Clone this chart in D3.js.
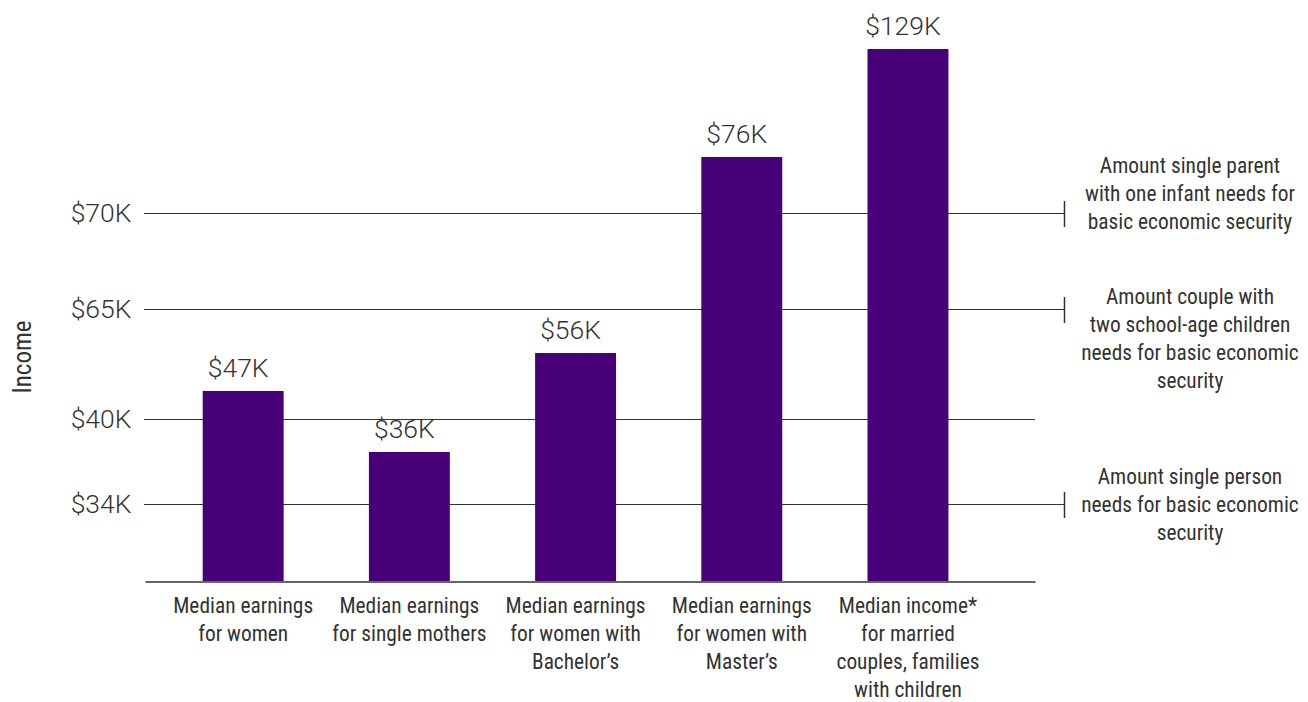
<!DOCTYPE html>
<html>
<head>
<meta charset="utf-8">
<script src="https://cdn.jsdelivr.net/npm/d3@7"></script>
<style>
  html, body { margin: 0; padding: 0; background: #fff; }
  svg { display: block; }
  .num { font-family: Roboto, "Liberation Sans", sans-serif; font-weight: 300; font-size: 26.5px; fill: #333; }
  .cond { font-family: "Liberation Sans Narrow", "Roboto Condensed", "DejaVu Sans Condensed", sans-serif; font-size: 21.4px; fill: #333; }
</style>
</head>
<body>
<svg id="chart" width="1308" height="702"></svg>
<script>
// ---------- data ----------
const categories = [
  "Median earnings for women",
  "Median earnings for single mothers",
  "Median earnings for women with Bachelor's",
  "Median earnings for women with Master's",
  "Median income* for married couples, families with children"
];
const categoryLines = [
  ["Median earnings", "for women"],
  ["Median earnings", "for single mothers"],
  ["Median earnings", "for women with", "Bachelor\u2019s"],
  ["Median earnings", "for women with", "Master\u2019s"],
  ["Median income*", "for married", "couples, families", "with children"]
];
const values = [47, 36, 56, 76, 129];
const valueLabels = ["$47K", "$36K", "$56K", "$76K", "$129K"];

const tickValues = [34, 40, 65, 70];
const tickLabels = ["$34K", "$40K", "$65K", "$70K"];

const thresholdValues = [70, 65, 34];
const thresholdNotes = [
  ["Amount single parent", "with one infant needs for", "basic economic security"],
  ["Amount couple with", "two school-age children", "needs for basic economic", "security"],
  ["Amount single person", "needs for basic economic", "security"]
];
const axisTitle = "Income";

// ---------- layout (not data) ----------
// The original chart is not drawn to a linear scale: a piecewise scale calibrated on it.
const yKnots   = [0,   34,    36,  40,    47,  56,  65,    70,    76,  129];
const yKnotPx  = [581, 504.5, 452, 419.5, 391, 353, 309.5, 213.5, 157, 49];
const noteFirstLineOffset = [-41, -6, -21];
const noteLineHeight = 28.3;
const catLineHeight = 28;

const W = 1308, H = 702;
const xLeft = 145, xRight = 1035, capX = 1064.5, noteX = 1190;
const barColor = "#470077";

const svg = d3.select("#chart");

const x = d3.scaleBand()
  .domain(categories)
  .range([xLeft, xRight])
  .paddingInner(0.513)
  .paddingOuter(0.434)
  .align(0.4);

const y = d3.scaleLinear().domain(yKnots).range(yKnotPx);

// ---------- gridlines / threshold lines ----------
const grid = svg.append("g");
grid.selectAll("line.grid")
  .data(tickValues)
  .join("line")
  .attr("class", "grid")
  .attr("x1", xLeft - 1)
  .attr("x2", d => thresholdValues.includes(d) ? capX : xRight)
  .attr("y1", d => y(d))
  .attr("y2", d => y(d))
  .attr("stroke", "#333")
  .attr("stroke-width", 1);

grid.selectAll("line.cap")
  .data(thresholdValues)
  .join("line")
  .attr("class", "cap")
  .attr("x1", capX).attr("x2", capX)
  .attr("y1", d => Math.round(y(d)) - 13)
  .attr("y2", d => Math.round(y(d)) + 13)
  .attr("stroke", "#333")
  .attr("stroke-width", 1.5);

// ---------- y axis labels ----------
const yAxis = d3.axisLeft(y)
  .tickValues(tickValues)
  .tickFormat(d => tickLabels[tickValues.indexOf(d)])
  .tickSize(0)
  .tickPadding(12);

const gy = svg.append("g")
  .attr("transform", `translate(${xLeft - 1.5},0)`)
  .call(yAxis);
gy.select(".domain").remove();
gy.selectAll("text")
  .attr("class", "num")
  .attr("font-family", null)
  .attr("font-size", null)
  .attr("fill", null);

// ---------- bars ----------
svg.append("g").selectAll("rect")
  .data(values)
  .join("rect")
  .attr("x", (d, i) => x(categories[i]))
  .attr("width", x.bandwidth())
  .attr("y", d => y(d))
  .attr("height", d => y(0) - y(d))
  .attr("fill", barColor);

svg.append("g").selectAll("text")
  .data(values)
  .join("text")
  .attr("class", "num")
  .attr("text-anchor", "middle")
  .attr("x", (d, i) => x(categories[i]) + x.bandwidth() / 2 - 5)
  .attr("y", d => y(d) - 14)
  .text((d, i) => valueLabels[i]);

// ---------- x axis ----------
const xAxis = d3.axisBottom(x).tickSize(0).tickSizeOuter(0);
const gx = svg.append("g")
  .attr("transform", `translate(0,${y(0) + 0.5})`)
  .call(xAxis);
gx.select(".domain")
  .attr("stroke", "#666")
  .attr("stroke-width", 2);
gx.selectAll(".tick text")
  .attr("class", "cond")
  .attr("font-family", null)
  .attr("font-size", null)
  .attr("fill", null)
  .attr("y", 31)
  .attr("dy", null)
  .each(function(d) {
    const t = d3.select(this);
    t.text(null);
    const lines = categoryLines[categories.indexOf(d)];
    lines.forEach((ln, k) => {
      t.append("tspan").attr("x", 0).attr("dy", k === 0 ? 0 : catLineHeight).text(ln);
    });
  });

// ---------- threshold notes ----------
const notes = svg.append("g");
thresholdNotes.forEach((lines, i) => {
  const t = notes.append("text")
    .attr("class", "cond")
    .attr("text-anchor", "middle")
    .attr("x", noteX)
    .attr("y", y(thresholdValues[i]) + noteFirstLineOffset[i]);
  lines.forEach((ln, k) => {
    t.append("tspan").attr("x", noteX).attr("dy", k === 0 ? 0 : noteLineHeight).text(ln);
  });
});

// ---------- axis title ----------
svg.append("text")
  .attr("class", "cond")
  .attr("text-anchor", "middle")
  .attr("transform", "translate(31,357) rotate(-90)")
  .style("font-size", "25px")
  .text(axisTitle);
</script>
</body>
</html>
